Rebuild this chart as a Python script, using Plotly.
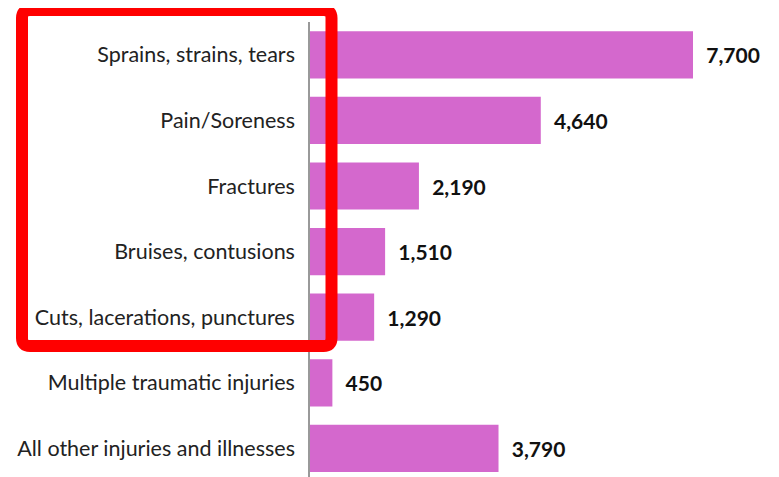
import plotly.graph_objects as go

categories = ["Sprains, strains, tears", "Pain/Soreness", "Fractures", "Bruises, contusions",
              "Cuts, lacerations, punctures", "Multiple traumatic injuries", "All other injuries and illnesses"]
values = [7700, 4640, 2190, 1510, 1290, 450, 3790]
labels = ["7,700", "4,640", "2,190", "1,510", "1,290", "450", "3,790"]

OFF = 8  # default page body margin
W, H = 779 - OFF, 477 - OFF
axis_x, plot_top = 310, 22
ml, mt = axis_x - OFF, plot_top - OFF
pw, ph = W - ml, H - mt
px_per_unit = 383 / 7700.0
xmax = pw / px_per_unit

fig = go.Figure(go.Bar(
    y=categories, x=values, orientation="h",
    marker=dict(color="#d468cd", line=dict(width=0)),
    width=0.72,
    text=["\u00a0\u00a0" + t for t in labels],
    textposition="outside",
    textfont=dict(family="Lato", size=21, color="#111111", weight="bold"),
    cliponaxis=False,
    hoverinfo="skip",
))

def px(x):
    return (x - axis_x) / pw

def py(y):
    return (477 - y) / ph

x0, x1, y0, y1 = 22, 331.5, 10, 346
r = 8
rx, ry = r / pw, r / ph
X0, X1, Y0, Y1 = px(x0), px(x1), py(y0), py(y1)
path = (f"M {X0+rx},{Y0} L {X1-rx},{Y0} Q {X1},{Y0} {X1},{Y0-ry} "
        f"L {X1},{Y1+ry} Q {X1},{Y1} {X1-rx},{Y1} "
        f"L {X0+rx},{Y1} Q {X0},{Y1} {X0},{Y1+ry} "
        f"L {X0},{Y0-ry} Q {X0},{Y0} {X0+rx},{Y0} Z")

fig.update_layout(
    width=W, height=H,
    margin=dict(l=ml, r=0, t=mt, b=0, autoexpand=False),
    paper_bgcolor="white", plot_bgcolor="white",
    showlegend=False,
    font=dict(family="Lato", size=21.5, color="#222222"),
    xaxis=dict(range=[0, xmax], showgrid=False, zeroline=False, showticklabels=False,
               showline=False, fixedrange=True),
    yaxis=dict(type="category", categoryorder="array", categoryarray=categories,
               range=[6.436, -0.5], showgrid=False, zeroline=False,
               showline=True, linecolor="#999999", linewidth=1.5,
               ticks="", ticklabelstandoff=9, automargin=False,
               tickfont=dict(family="Lato", size=21.5, color="#222222")),
    shapes=[dict(type="path", path=path, xref="paper", yref="paper",
                 line=dict(color="#ff0000", width=12), fillcolor="rgba(0,0,0,0)", layer="above")],
)

fig.write_html("out.html")
